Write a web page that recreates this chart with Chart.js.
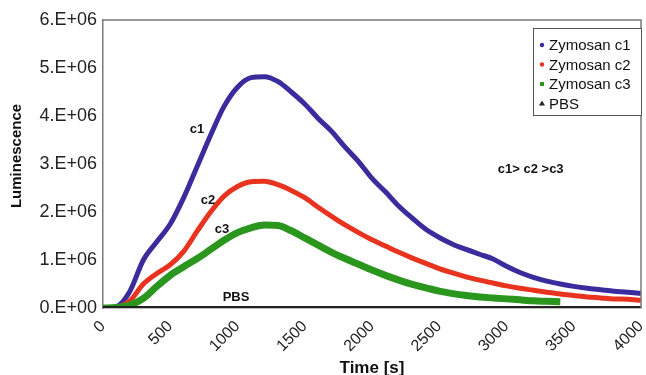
<!DOCTYPE html>
<html>
<head>
<meta charset="utf-8">
<script src="https://cdn.jsdelivr.net/npm/chart.js@4"></script>
<style>
  html, body { margin: 0; padding: 0; background: #fff; }
  #wrap { width: 646px; height: 375px; position: relative; }
</style>
</head>
<body>
<div id="wrap"><canvas id="lumChart"></canvas></div>
<script>
// time points [s]
const times = [0, 100, 200, 300, 400, 500, 600, 700, 800, 900,
    1000, 1100, 1200, 1300, 1400, 1500, 1600, 1700, 1800, 1900,
    2000, 2100, 2200, 2300, 2400, 2500, 2600, 2700, 2800, 2900,
    3000, 3100, 3200, 3300, 3400, 3500, 3600, 3700, 3800, 3900, 4000];

// luminescence, in millions
const zymC1 = [0, 0.03, 0.35, 1.0, 1.38, 1.75, 2.3, 2.95, 3.6, 4.2,
    4.6, 4.8, 4.82, 4.72, 4.5, 4.25, 3.95, 3.68, 3.35, 3.05,
    2.7, 2.42, 2.12, 1.87, 1.64, 1.47, 1.33, 1.22, 1.12, 1.02,
    0.87, 0.74, 0.64, 0.56, 0.5, 0.45, 0.41, 0.38, 0.35, 0.33, 0.3];
const zymC2 = [0, 0.02, 0.15, 0.5, 0.72, 0.9, 1.18, 1.6, 2.0, 2.33,
    2.53, 2.63, 2.64, 2.57, 2.45, 2.3, 2.1, 1.91, 1.73, 1.57,
    1.42, 1.29, 1.16, 1.04, 0.93, 0.82, 0.73, 0.65, 0.58, 0.52,
    0.46, 0.41, 0.37, 0.33, 0.29, 0.26, 0.23, 0.21, 0.19, 0.18, 0.16];
const zymC3 = [0, 0.01, 0.06, 0.2, 0.45, 0.68, 0.86, 1.03, 1.22, 1.41,
    1.57, 1.67, 1.73, 1.72, 1.61, 1.46, 1.31, 1.16, 1.03, 0.91,
    0.79, 0.68, 0.58, 0.49, 0.42, 0.35, 0.3, 0.26, 0.23, 0.21,
    0.19, 0.17, 0.15, 0.14, 0.13];
const pbs = times.map(() => 0);

const yTicks = [0, 1, 2, 3, 4, 5, 6];
const xTicks = [0, 500, 1000, 1500, 2000, 2500, 3000, 3500, 4000];

// text labels placed at data coordinates [time, luminescence (millions)]
const notes = [
    { text: 'c1', t: 699, v: 3.71 },
    { text: 'c2', t: 781, v: 2.25 },
    { text: 'c3', t: 885, v: 1.63 },
    { text: 'PBS', t: 989, v: 0.21 },
    { text: 'c1> c2 >c3', t: 3180, v: 2.88 }
];

function toPoints(vals) {
    return vals.map((v, i) => ({ x: times[i], y: v * 1e6 }));
}

const FONT = '"Liberation Sans", Arial, sans-serif';

const frameAndNotes = {
    id: 'frameAndNotes',
    afterDraw(chart) {
        const ctx = chart.ctx;
        const a = chart.chartArea;
        const xs = chart.scales.x, ys = chart.scales.y;

        // plot box (top + right edges)
        ctx.save();
        ctx.strokeStyle = '#7a7a7a';
        ctx.lineWidth = 1.5;
        ctx.beginPath();
        ctx.moveTo(a.left, a.top);
        ctx.lineTo(a.right, a.top);
        ctx.lineTo(a.right, a.bottom);
        ctx.stroke();

        // y axis title
        ctx.save();
        ctx.translate(17, 156);
        ctx.rotate(-Math.PI / 2);
        ctx.font = 'bold 15px ' + FONT;
        ctx.fillStyle = '#111';
        ctx.textAlign = 'center';
        ctx.textBaseline = 'middle';
        ctx.fillText('Luminescence', 0, 0);
        ctx.restore();

        // annotations
        ctx.fillStyle = '#111';
        ctx.textAlign = 'center';
        ctx.textBaseline = 'middle';
        ctx.font = 'bold 13px ' + FONT;
        notes.forEach(n => {
            ctx.fillText(n.text, xs.getPixelForValue(n.t), ys.getPixelForValue(n.v * 1e6));
        });

        // legend box
        const bx = 533, by = 28, bw = 108, bh = 87;
        ctx.fillStyle = '#fff';
        ctx.fillRect(bx, by, bw, bh);
        ctx.strokeStyle = '#555';
        ctx.lineWidth = 1;
        ctx.strokeRect(bx + 0.5, by + 0.5, bw, bh);
        ctx.font = '15px ' + FONT;
        ctx.textAlign = 'left';
        chart.data.datasets.forEach((ds, i) => {
            const cy = by + 17 + i * 19.5;
            ctx.fillStyle = ds.borderColor;
            if (ds.legendMark === 'triangle') {
                ctx.beginPath();
                ctx.moveTo(542, cy - 3);
                ctx.lineTo(545, cy + 2);
                ctx.lineTo(539, cy + 2);
                ctx.closePath();
                ctx.fill();
            } else if (ds.legendMark === 'square') {
                ctx.fillRect(540, cy - 2, 4, 4);
            } else {
                ctx.beginPath();
                ctx.arc(542, cy, 2.2, 0, Math.PI * 2);
                ctx.fill();
            }
            ctx.fillStyle = '#111';
            ctx.fillText(ds.label, 549, cy + 1);
        });
        ctx.restore();
    }
};

new Chart(document.getElementById('lumChart'), {
    type: 'line',
    data: {
        datasets: [
            {
                label: 'Zymosan c1',
                data: toPoints(zymC1),
                borderColor: '#3b2c9e',
                borderWidth: 5,
                legendMark: 'circle',
                order: 3
            },
            {
                label: 'Zymosan c2',
                data: toPoints(zymC2),
                borderColor: '#e8341f',
                borderWidth: 5,
                legendMark: 'circle',
                order: 2
            },
            {
                label: 'Zymosan c3',
                data: toPoints(zymC3),
                borderColor: '#2b961d',
                borderWidth: 7,
                legendMark: 'square',
                order: 1
            },
            {
                label: 'PBS',
                data: toPoints(pbs),
                borderColor: '#222222',
                borderWidth: 4,
                legendMark: 'triangle',
                order: 0
            }
        ]
    },
    options: {
        responsive: true,
        maintainAspectRatio: false,
        animation: false,
        layout: { padding: { top: 20, right: 5, left: 0, bottom: 0 } },
        elements: {
            point: { radius: 0 },
            line: { tension: 0.4, cubicInterpolationMode: 'monotone', fill: false, borderCapStyle: 'butt' }
        },
        plugins: {
            legend: { display: false },
            tooltip: { enabled: false }
        },
        scales: {
            x: {
                type: 'linear',
                min: 0,
                max: 4000,
                afterBuildTicks: (axis) => { axis.ticks = xTicks.map(v => ({ value: v })); },
                afterFit: (axis) => {
                    axis.height = 67;
                    axis.paddingLeft = 0;
                    axis.paddingRight = 0;
                },
                grid: { display: false, drawTicks: true, tickLength: 5, color: '#7a7a7a' },
                border: { color: '#7a7a7a', width: 1.5 },
                ticks: {
                    minRotation: 45,
                    maxRotation: 45,
                    padding: 4,
                    color: '#222',
                    font: { family: FONT, size: 16 },
                    callback: (v) => String(v)
                },
                title: {
                    display: true,
                    text: 'Time [s]',
                    color: '#111',
                    padding: { top: 0, bottom: -4 },
                    font: { family: FONT, size: 17, weight: 'bold' }
                }
            },
            y: {
                min: 0,
                max: 6e6,
                afterBuildTicks: (axis) => { axis.ticks = yTicks.map(v => ({ value: v * 1e6 })); },
                afterFit: (axis) => {
                    axis.width = 103;
                    axis.paddingTop = 0;
                    axis.paddingBottom = 0;
                },
                grid: { display: false, drawTicks: true, tickLength: 5, color: '#7a7a7a' },
                border: { color: '#7a7a7a', width: 1.5 },
                ticks: {
                    padding: 1,
                    color: '#222',
                    font: { family: FONT, size: 18 },
                    callback: (v) => v === 0 ? '0.E+00' : (v / 1e6) + '.E+06'
                },
                title: { display: false }
            }
        }
    },
    plugins: [frameAndNotes]
});
</script>
</body>
</html>
